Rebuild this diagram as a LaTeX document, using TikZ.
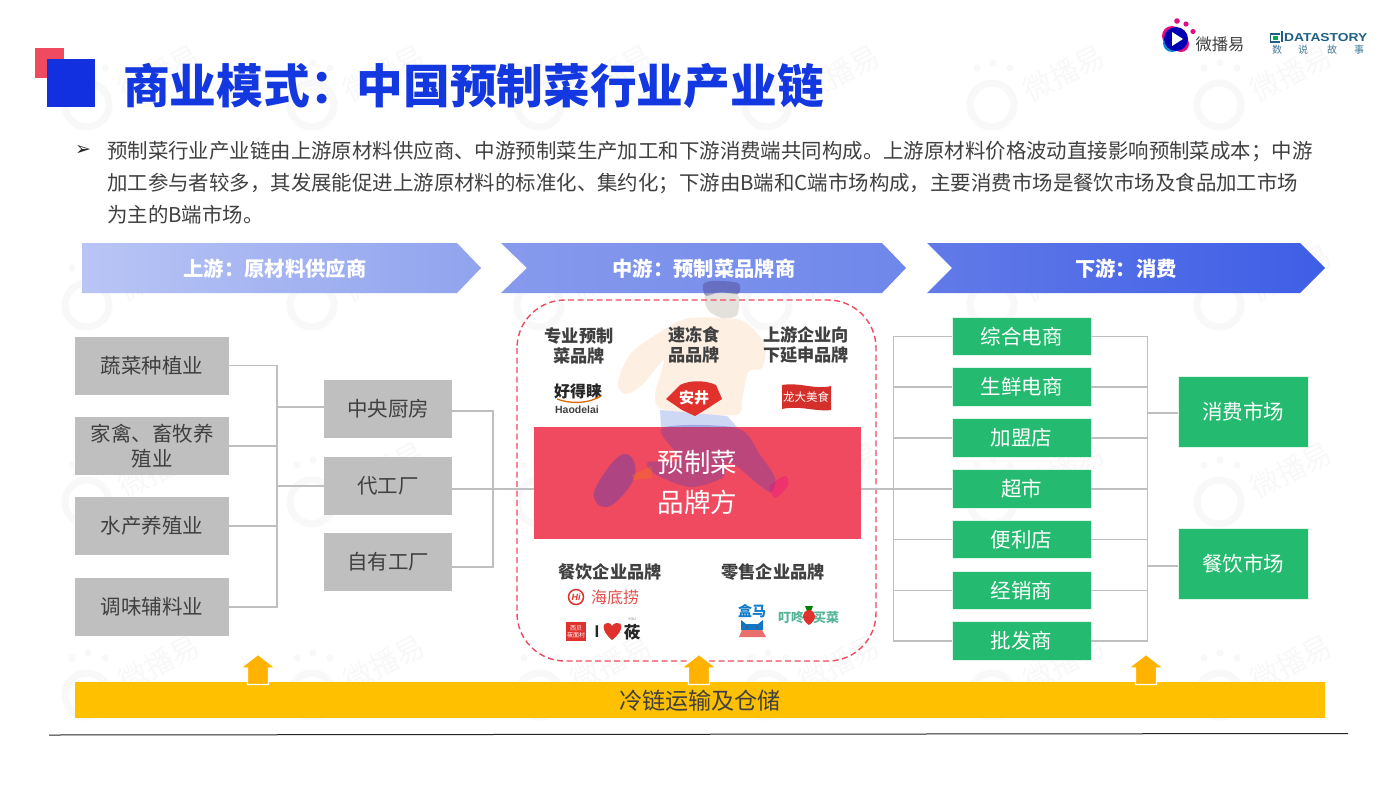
\documentclass[tikz,border=0pt]{standalone}
\usepackage{fontspec}
\setmainfont{Noto Sans CJK SC}
\newfontfamily\dejavu{DejaVu Sans}
\newfontfamily\libsans{Liberation Sans}
\usetikzlibrary{calc}
\definecolor{txt}{HTML}{404040}
\definecolor{titleblue}{HTML}{1438E0}
\definecolor{squareblue}{HTML}{1230E0}
\definecolor{brandred}{HTML}{EF4A5F}
\definecolor{greybox}{HTML}{BFBFBF}
\definecolor{linegrey}{HTML}{BFBFBF}
\definecolor{greenbox}{HTML}{24BA6F}
\definecolor{barorange}{HTML}{FFC000}
\definecolor{arroworange}{HTML}{FFB300}
\definecolor{wmgrey}{HTML}{F8F8F8}
\definecolor{peach}{HTML}{FEEFE3}
\definecolor{logored}{HTML}{E0312D}
\definecolor{dsblue}{HTML}{1F5F85}
\definecolor{pantsblue}{HTML}{CDD8F5}
\definecolor{dingdong}{HTML}{58B59A}
\definecolor{cha}{HTML}{B9C5F5}
\definecolor{chb}{HTML}{90A3EE}
\definecolor{chc}{HTML}{879AEC}
\definecolor{chd}{HTML}{6E87EA}
\definecolor{che}{HTML}{627AE8}
\definecolor{chf}{HTML}{3E5EE6}
\newcommand{\fs}[2]{\fontsize{#1}{#2}\selectfont}
\tikzset{
  greyb/.style={fill=greybox,text=txt,inner sep=0pt,align=center,font=\fs{20.5}{25}},
  greenb/.style={fill=greenbox,draw=white!85!greenbox,line width=.6pt,text=white,inner sep=0pt,align=center,font=\fs{20.5}{25}},
  conn/.style={draw=linegrey,line width=1.6pt},
  head/.style={text=white,inner sep=0pt,font=\bfseries\fs{20.3}{24}},
  brandhead/.style={text=txt,inner sep=0pt,align=center,font=\bfseries\fs{17.2}{20}},
  bodyline/.style={text=txt,inner sep=0pt,anchor=west,font=\fs{20.43}{24}},
  uparrow/.style={fill=arroworange,draw=white,line width=1.2pt},
  wmtext/.style={text=wmgrey,inner sep=0pt,rotate=27,font=\fs{29}{30}},
  lbl/.style={inner sep=0pt},
}
\newcommand{\wmark}[3]{%
  \fill[wmgrey] (#1-13,#2-32) circle (3.5);
  \fill[wmgrey] (#1+3,#2-37) circle (3.5);
  \fill[wmgrey] (#1+20,#2-32) circle (3.5);
  \draw[wmgrey,line width=7pt] (#1+2,#2+5) circle (22);
  \fill[white] (#1-9,#2-1) -- (#1+14,#2-1) -- (#1+2,#2+16) -- cycle;
  \node[wmtext] (wm#3) at (#1+74,#2-27) {微播易};
}
\newcommand{\uparr}[1]{%
  \path[uparrow] (#1,654.5) -- (#1+17.5,668) -- (#1+10.5,668) -- (#1+10.5,684.5)
    -- (#1-10.5,684.5) -- (#1-10.5,668) -- (#1-17.5,668) -- cycle;
}
\begin{document}
\begin{tikzpicture}[x=1pt,y=-1pt]
\useasboundingbox (0,0) rectangle (1400,788);
\fill[white] (0,0) rectangle (1400,788);

% watermarks
\foreach \cx/\nx in {85/a,310/b,537/c,765/d,990/e,1217/f}
  \foreach \cy/\ny in {100/p,300/q,497/r,690/s}
    {\wmark{\cx}{\cy}{\nx\ny}}

% title block
\fill[brandred] (35,48) rectangle (64,78);
\fill[squareblue] (47,59) rectangle (95,107);
\node[anchor=west,inner sep=0pt,text=titleblue,font=\bfseries\fs{46.7}{50}] (title) at (123,86) {商业模式：中国预制菜行业产业链};

% top logos
\fill[magenta!85!purple] (1177,21) circle (2.8);
\fill[magenta!85!purple] (1186,24) circle (2.6);
\fill[magenta!85!purple] (1193,31.5) circle (2.6);
\fill[magenta!85!purple] (1172,36) circle (10);
\fill[cyan!70!blue] (1172,43) circle (9);
\fill[magenta!85!purple] (1181,44) circle (8);
\fill[blue!70!black] (1176,39) circle (12);
\fill[white] (1172,32) -- (1183,39) -- (1172,46) -- cycle;
\node[lbl,text=txt,font=\fs{16.3}{18}] (wbylogo) at (1220,44) {微播易};
\draw[dsblue,line width=1.4pt] (1280,34) -- (1270.5,34) -- (1270.5,42) -- (1280,42);
\fill[teal!70!green] (1273,36) rectangle (1278,40);
\fill[dsblue] (1280.5,31) rectangle (1282.5,42);
\node[lbl,anchor=west,text=dsblue,font=\libsans\bfseries\fs{11.5}{12}] (dslogo) at (1284,37.5) {\scalebox{1.2}[1]{DATASTORY}};
\node[lbl,text=dsblue!85,font=\fs{10}{11}] (ds1) at (1277,49.5) {数};
\node[lbl,text=dsblue!85,font=\fs{10}{11}] (ds2) at (1303,49.5) {说};
\node[lbl,text=dsblue!85,font=\fs{10}{11}] (ds3) at (1332,49.5) {故};
\node[lbl,text=dsblue!85,font=\fs{10}{11}] (ds4) at (1359,49.5) {事};

% intro text
\node[lbl,text=black!85,font=\dejavu\fs{19}{20}] (bullet) at (83,150) {➢};
\node[bodyline] (l1) at (107,151) {预制菜行业产业链由上游原材料供应商、中游预制菜生产加工和下游消费端共同构成。上游原材料价格波动直接影响预制菜成本；中游};
\node[bodyline] (l2) at (107,183.5) {加工参与者较多，其发展能促进上游原材料的标准化、集约化；下游由B端和C端市场构成，主要消费市场是餐饮市场及食品加工市场};
\node[bodyline] (l3) at (107,215) {为主的B端市场。};

% header chevrons
\path[left color=cha,right color=chb]
  (82,243) -- (457,243) -- (481,268) -- (457,293) -- (82,293) -- cycle;
\path[left color=chc,right color=chd]
  (501,243) -- (882,243) -- (906,268) -- (882,293) -- (501,293) -- (527,268) -- cycle;
\path[left color=che,right color=chf]
  (927,243) -- (1300,243) -- (1325,268) -- (1300,293) -- (927,293) -- (952,268) -- cycle;
\node[head] (h1) at (275,269) {上游：原材料供应商};
\node[head] (h2) at (704,269) {中游：预制菜品牌商};
\node[head] (h3) at (1126,269) {下游：消费};

% runner, light parts
\fill[peach] plot[smooth cycle,tension=.5] coordinates {(690,318) (722,318) (745,322) (765,345) (762,368) (748,372) (742,400) (735,415) (665,410) (655,395) (664,360) (642,385) (625,394) (618,382) (632,352) (672,325)};
\fill[fill=blue!30!gray,fill opacity=.6] plot[smooth cycle,tension=.5] coordinates {(703,285) (712,281) (738,283) (738,294) (720,292) (706,296)};
\fill[fill=peach!60!gray,fill opacity=.5] plot[smooth cycle,tension=.5] coordinates {(705,296) (720,293) (738,295) (737,315) (722,318) (708,310)};
\fill[pantsblue] (660,410) -- (727,416) -- (737,427) -- (661,427) -- cycle;

% dashed frame
\draw[brandred,line width=1.4pt,dash pattern=on 6pt off 3.5pt,rounded corners=48pt] (517,300) rectangle (876,661);

% brand headings
\node[brandhead] (bh1) at (579,345.5) {专业预制\\菜品牌};
\node[brandhead] (bh2) at (694,345) {速冻食\\品品牌};
\node[brandhead] (bh3) at (806,345) {上游企业向\\下延申品牌};
\node[brandhead] (bh4) at (610,572) {餐饮企业品牌};
\node[brandhead] (bh5) at (773,572) {零售企业品牌};

% brand logos
\node[lbl,text=black!85,font=\bfseries\fs{16}{17}] (lg1) at (578,391) {好得睐};
\draw[orange!85!black,line width=1.3pt] (557,399) .. controls (570,404) and (588,404) .. (601,396);
\node[lbl,text=black!75,font=\libsans\bfseries\fs{10.5}{11}] (lg1b) at (577,409.5) {Haodelai};
\fill[logored] (666,399) -- (680,385) .. controls (690,380) and (705,380) .. (716,385) -- (722,399) -- (705,410) -- (695,416) -- (682,410) -- cycle;
\node[lbl,text=white,font=\bfseries\fs{15}{16}] (lg2) at (694,398) {安井};
\fill[logored!95!black] (782,385) .. controls (800,382) and (815,390) .. (831,386) -- (831,410) .. controls (815,412) and (800,405) .. (782,409) -- cycle;
\node[lbl,text=white,font=\fs{11.5}{12}] (lg3) at (806,397) {龙大美食};
\draw[logored,line width=1.5pt] (576,597) circle (7.5);
\node[lbl,text=logored,font=\libsans\bfseries\itshape\fs{9}{10}] (lg4a) at (576,597) {Hi};
\node[lbl,text=logored!85,font=\fs{16}{17}] (lg4b) at (615,597.5) {海底捞};
\fill[logored] (566,622) rectangle (586,641);
\node[lbl,text=white,font=\fs{6}{7},align=center] (lg5a) at (576,631.5) {西贝\\莜面村};
\node[lbl,text=black!85,font=\libsans\bfseries\fs{17}{18}] (lg5b) at (597,632) {I};
\fill[logored] (612,640) .. controls (600,630) and (603,622) .. (608,623) .. controls (610,623) and (611,624) .. (612,626) .. controls (613,624) and (615,623) .. (617,623) .. controls (622,622) and (625,630) .. (612,640) -- cycle;
\node[lbl,text=black!85,font=\bfseries\fs{16.5}{17}] (lg5c) at (632,632) {莜};
\node[lbl,text=black!55,font=\libsans\fs{3.5}{4}] (lg5d) at (632,619) {YOU};
\node[lbl,text=cyan!60!blue,font=\bfseries\fs{14}{15}] (lg6a) at (752,611) {盒马};
\fill[cyan!55!blue] (741,620) -- (746,624) -- (758,624) -- (763,620) -- (763,630) -- (741,630) -- cycle;
\fill[black!70] (747,627) circle (.8) (757,627) circle (.8);
\fill[logored!70] (739,637) -- (742,630) -- (762,630) -- (766,637) -- cycle;
\node[lbl,text=dingdong,font=\bfseries\fs{13}{14}] (lg7a) at (791,618) {叮咚};
\node[lbl,text=dingdong,font=\bfseries\fs{13}{14}] (lg7b) at (826,618) {买菜};
\fill[green!50!black] (805,606) -- (813,606) -- (811,611) -- (807,611) -- cycle;
\fill[logored] (809,625) .. controls (801,620) and (801,611) .. (809,610) .. controls (817,611) and (817,620) .. (809,625) -- cycle;

% centre box
\node[fill=brandred,minimum width=327pt,minimum height=112pt,inner sep=0pt] (red) at (697.5,483) {};
% runner, parts seen through the red box
\fill[blue!50!gray,fill opacity=.3] plot[smooth cycle,tension=.5] coordinates {(662,428) (737,428) (760,455) (775,478) (771,492) (758,484) (730,462) (722,478) (690,487) (655,474) (648,462) (680,460)};
\fill[blue!55!gray,fill opacity=.35] plot[smooth cycle,tension=.7] coordinates {(618,457) (632,458) (634,478) (618,500) (605,507) (595,500) (597,485)};
\fill[magenta,fill opacity=.3] plot[smooth cycle] coordinates {(770,486) (785,476) (788,485) (775,498)};
\fill[orange,fill opacity=.3] (632,475) -- (652,466) -- (652,478) -- (634,480) -- cycle;
\node[text=white,inner sep=0pt,align=center,font=\fs{26.5}{40}] (redt) at (697.5,482) {预制菜\\品牌方};

% grey boxes
\foreach \nm/\cy/\tx in {a1/365.5/蔬菜种植业,a2/446/{家禽、畜牧养\\殖业},a3/526/水产养殖业,a4/607/调味辅料业}
  \node[greyb,minimum width=154pt,minimum height=58pt] (\nm) at (152,\cy) {\tx};
\foreach \nm/\cy/\tx in {m1/409/中央厨房,m2/485.5/代工厂,m3/562/自有工厂}
  \node[greyb,minimum width=128pt,minimum height=58pt] (\nm) at (388,\cy) {\tx};

% green boxes
\foreach \nm/\cy/\tx in {g1/336.5/综合电商,g2/387/生鲜电商,g3/438/加盟店,g4/489/超市,g5/539.5/便利店,g6/590.5/经销商,g7/641/批发商}
  \node[greenb,minimum width=139pt,minimum height=38.5pt] (\nm) at (1021.5,\cy) {\tx};
\node[greenb,minimum width=130pt,minimum height=71.5pt] (mk1) at (1243,412) {消费市场};
\node[greenb,minimum width=130pt,minimum height=71.5pt] (mk2) at (1243,564) {餐饮市场};

% connectors
\coordinate (busA) at (277,0);
\coordinate (busB) at (493,0);
\coordinate (busC) at (893.5,0);
\coordinate (busD) at (1147.5,0);
\coordinate (ja) at (300,407);
\coordinate (jb) at (300,486);
\coordinate (jc) at (470,411);
\coordinate (jd) at (470,489);
\coordinate (je) at (470,567);
\coordinate (jf) at (1160,413);
\coordinate (jg) at (1160,566);
\draw[conn] (a1.east) -| (busA |- a4.east) -- (a4.east);
\draw[conn] (a2.east) -- (a2.east -| busA);
\draw[conn] (a3.east) -- (a3.east -| busA);
\draw[conn] (ja -| busA) -- (ja -| m1.west);
\draw[conn] (jb -| busA) -- (jb -| m2.west);
\draw[conn] (jc -| m1.east) -| (je -| busB) -- (je -| m3.east);
\draw[conn] (jd -| m2.east) -- (jd -| red.west);
\draw[conn] (g1.west) -| (busC |- g7.west) -- (g7.west);
\foreach \n in {g2,g3,g5,g6} \draw[conn] (\n.west) -- (\n.west -| busC);
\draw[conn] (red.east |- g4.west) -- (g4.west);
\draw[conn] (g1.east) -| (busD |- g7.east) -- (g7.east);
\foreach \n in {g2,g3,g4,g5,g6} \draw[conn] (\n.east) -- (\n.east -| busD);
\draw[conn] (jf -| busD) -- (jf -| mk1.west);
\draw[conn] (jg -| busD) -- (jg -| mk2.west);

% cold-chain bar
\node[fill=barorange,minimum width=1250pt,minimum height=36.5pt,inner sep=0pt] (bar) at (700,700) {};
\node[lbl,text=txt,font=\fs{23.1}{26}] (bart) at (700,701) {冷链运输及仓储};
\uparr{258}
\uparr{699}
\uparr{1146}

% base rule
\draw[black!85,line width=1pt] (49,735) -- (1348,733.5);
\end{tikzpicture}
\end{document}
